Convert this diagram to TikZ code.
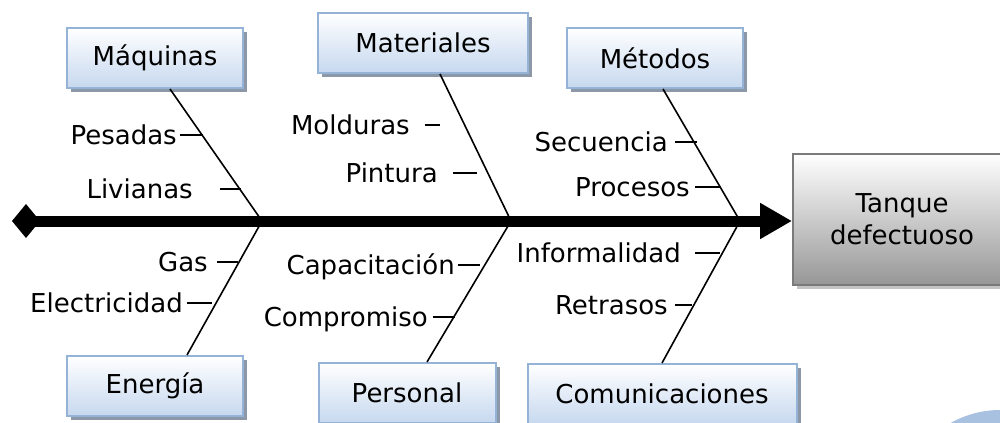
\documentclass[tikz,border=0pt]{standalone}
\usepackage{fontspec}
\setmainfont{DejaVu Sans}
\usetikzlibrary{shadows,arrows.meta,calc}
\definecolor{boxblue}{HTML}{C6D8EF}
\definecolor{boxborder}{HTML}{95B3D7}
\definecolor{boxshadow}{HTML}{8C98A8}
\definecolor{grayfill}{HTML}{979797}
\definecolor{grayborder}{HTML}{7A7A7A}
\definecolor{grayshadow}{HTML}{C4C4C4}
\definecolor{blob}{HTML}{A8C1E0}
\begin{document}
\begin{tikzpicture}[x=0.75pt,y=-0.75pt,
  every node/.style={font=\fontsize{19.5}{24}\selectfont},
  cause/.style={draw=boxborder, line width=1.5pt, top color=white, bottom color=boxblue,
    drop shadow={shadow xshift=3pt, shadow yshift=-3pt, fill=boxshadow, opacity=1},
    minimum height=45pt, inner sep=0pt},
  effect/.style={draw=grayborder, line width=1.5pt, top color=white, bottom color=grayfill,
    drop shadow={shadow xshift=3pt, shadow yshift=-3pt, fill=grayshadow, opacity=1},
    inner sep=0pt, align=center},
  bone/.style={line width=1.2pt, black},
  tickmark/.style={line width=1.2pt, black},
  lbl/.style={anchor=east, inner sep=0pt, text height=14.6pt, text depth=0pt}
]
\useasboundingbox (0,0) rectangle (1000,422);
\clip (0,0) rectangle (1000,422);
\fill[white] (0,0) rectangle (1000,422);
\fill[blob] (1000,510) circle (100);

% category boxes
\node[cause, minimum width=132pt] (maq) at (155,58) {Máquinas};
\node[cause, minimum width=157.5pt] (mat) at (423,43) {Materiales};
\node[cause, minimum width=132pt] (met) at (655,58) {Métodos};
\node[cause, minimum width=132pt] (ene) at (155,386) {Energía};
\node[cause, minimum width=132.75pt] (per) at (407,393) {Personal};
\node[cause, minimum width=201.75pt] (com) at (662,394) {Comunicaciones};
\node[effect, minimum width=163.5pt, minimum height=98.25pt] (tan) at (902,219) {Tanque\\defectuoso};

% spine joints
\coordinate (tail) at (12,221);
\coordinate (j1) at (262,221);
\coordinate (j2) at (511,221);
\coordinate (j3) at (740,221);

% bones
\draw[bone] ([xshift=11.25pt]maq.south) -- (j1);
\draw[bone] ([xshift=24pt]ene.north) -- (j1);
\draw[bone] ([xshift=12.75pt]mat.south) -- (j2);
\draw[bone] ([xshift=15pt]per.north) -- (j2);
\draw[bone] ([xshift=6pt]met.south) -- (j3);
\draw[bone] (com.north) -- (j3);

% spine
\draw[line width=8.25pt, {Diamond[length=21pt,width=25.5pt]}-{Triangle[length=24pt,width=25.5pt]}]
  (tail) -- (tail -| tan.west);

% sub-causes
\node[lbl] (pes) at (177,135) {Pesadas};
\draw[tickmark] ($(pes.east)+(3,0)$) -- ++(23,0);
\node[lbl] (liv) at (193,189) {Livianas};
\draw[tickmark] ($(liv.east)+(27,0)$) -- ++(21,0);
\node[lbl] (mol) at (410,125) {Molduras};
\draw[tickmark] ($(mol.east)+(15,0)$) -- ++(15,0);
\node[lbl] (pin) at (438,173) {Pintura};
\draw[tickmark] ($(pin.east)+(15,0)$) -- ++(24,0);
\node[lbl] (sec) at (668,142) {Secuencia};
\draw[tickmark] ($(sec.east)+(7,0)$) -- ++(22,0);
\node[lbl] (pro) at (690,187) {Procesos};
\draw[tickmark] ($(pro.east)+(5,0)$) -- ++(25,0);
\node[lbl] (gas) at (208,262) {Gas};
\draw[tickmark] ($(gas.east)+(9,0)$) -- ++(21,0);
\node[lbl] (ele) at (183,303) {Electricidad};
\draw[tickmark] ($(ele.east)+(4,0)$) -- ++(25,0);
\node[lbl] (cap) at (455,265) {Capacitación};
\draw[tickmark] ($(cap.east)+(3,0)$) -- ++(22,0);
\node[lbl] (cmp) at (428,317) {Compromiso};
\draw[tickmark] ($(cmp.east)+(5,0)$) -- ++(22,0);
\node[lbl] (inf) at (681,253) {Informalidad};
\draw[tickmark] ($(inf.east)+(14,0)$) -- ++(25,0);
\node[lbl] (ret) at (668,305) {Retrasos};
\draw[tickmark] ($(ret.east)+(7,0)$) -- ++(17,0);
\end{tikzpicture}
\end{document}
